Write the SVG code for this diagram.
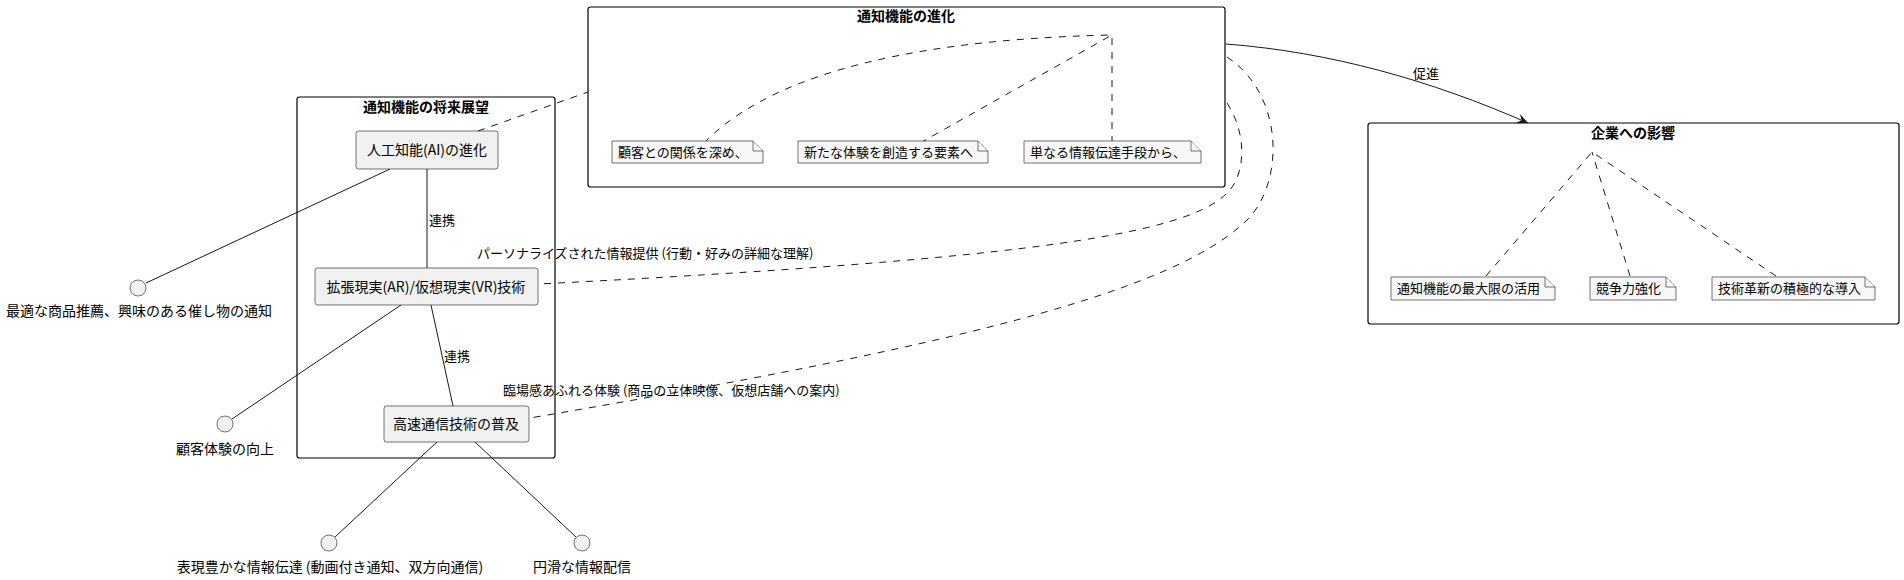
<svg xmlns="http://www.w3.org/2000/svg" width="1904" height="580" viewBox="0 0 1904 580">
<style>
text{font-family:"Noto Sans CJK JP","Noto Sans",sans-serif;fill:#000}
.pkg{fill:none;stroke:#000;stroke-width:1.2}
.ttl{font-size:14px;font-weight:bold;text-anchor:middle}
.node{fill:#f1f1f1;stroke:#181818;stroke-width:0.6}
.nt{font-size:14px;text-anchor:middle}
.note{fill:#f7f7f7;stroke:#181818;stroke-width:0.6}
.ntx{font-size:13px}
.lbl{font-size:13px}
.cl{font-size:14px;text-anchor:middle}
.sol{fill:none;stroke:#181818;stroke-width:1}
.dsh{fill:none;stroke:#181818;stroke-width:1;stroke-dasharray:7,7}
.cir{fill:#f1f1f1;stroke:#181818;stroke-width:0.6}
</style>
<defs>
<marker id="arr" viewBox="0 0 12 10" refX="11" refY="5" markerWidth="12" markerHeight="10" markerUnits="userSpaceOnUse" orient="auto">
<path d="M0,0 L11,5 L0,10 L4,5 Z" fill="#181818"/>
</marker>
</defs>

<g id="pkg-evolution">
<rect class="pkg" x="588" y="7" width="637" height="180" rx="2.5"/>
<text class="ttl" x="906" y="21">通知機能の進化</text>
</g>
<g id="pkg-future">
<rect class="pkg" x="297" y="97" width="258" height="361" rx="2.5"/>
<text class="ttl" x="426" y="112">通知機能の将来展望</text>
</g>
<g id="pkg-impact">
<rect class="pkg" x="1368" y="123" width="531" height="201" rx="2.5"/>
<text class="ttl" x="1633" y="138">企業への影響</text>
</g>

<g id="connectors">
<path class="dsh" d="M704,143 C760,85 880,40 1112,35"/>
<path class="dsh" d="M920,143 L1112,35"/>
<path class="dsh" d="M1112,143 L1112,35"/>
<path class="dsh" d="M1486,276 L1592,152"/>
<path class="dsh" d="M1630,276 L1592,152"/>
<path class="dsh" d="M1776,276 L1592,152"/>
<path class="sol" d="M1226,44 C1330,52 1430,80 1528,123" marker-end="url(#arr)"/>
<path class="dsh" d="M478,131 L588,92"/>
<path class="dsh" d="M1227,103 C1248,135 1245,175 1228,192 C1190,232 1050,258 539,284"/>
<path class="dsh" d="M1227,57 C1285,95 1285,185 1245,222 C1170,292 960,345 530,418"/>
<path class="sol" d="M427,169 L427,268"/>
<path class="sol" d="M431,305 L453,406"/>
<path class="sol" d="M390,169 L146,283"/>
<path class="sol" d="M401,305 L232,419"/>
<path class="sol" d="M437,442 L335,537"/>
<path class="sol" d="M475,442 L576,537"/>
</g>

<g id="labels">
<text class="lbl" x="1413" y="78">促進</text>
<text class="lbl" x="429" y="225">連携</text>
<text class="lbl" x="444" y="361">連携</text>
<text class="lbl" x="477" y="258">パーソナライズされた情報提供 (行動・好みの詳細な理解)</text>
<text class="lbl" x="503" y="395">臨場感あふれる体験 (商品の立体映像、仮想店舗への案内)</text>
</g>

<g id="note-evo1">
<path class="note" d="M612,141 L753,141 L763,151 L763,163 L612,163 Z"/>
<path class="note" d="M753,141 L753,151 L763,151"/>
<text class="ntx" x="618" y="157">顧客との関係を深め、</text>
</g>
<g id="note-evo2">
<path class="note" d="M798,141 L978,141 L988,151 L988,163 L798,163 Z"/>
<path class="note" d="M978,141 L978,151 L988,151"/>
<text class="ntx" x="804" y="157">新たな体験を創造する要素へ</text>
</g>
<g id="note-evo3">
<path class="note" d="M1024,141 L1191,141 L1201,151 L1201,163 L1024,163 Z"/>
<path class="note" d="M1191,141 L1191,151 L1201,151"/>
<text class="ntx" x="1030" y="157">単なる情報伝達手段から、</text>
</g>

<g id="note-imp1">
<path class="note" d="M1391,277 L1545,277 L1555,287 L1555,300 L1391,300 Z"/>
<path class="note" d="M1545,277 L1545,287 L1555,287"/>
<text class="ntx" x="1397" y="293">通知機能の最大限の活用</text>
</g>
<g id="note-imp2">
<path class="note" d="M1590,277 L1666,277 L1676,287 L1676,300 L1590,300 Z"/>
<path class="note" d="M1666,277 L1666,287 L1676,287"/>
<text class="ntx" x="1596" y="293">競争力強化</text>
</g>
<g id="note-imp3">
<path class="note" d="M1712,277 L1865,277 L1875,287 L1875,300 L1712,300 Z"/>
<path class="note" d="M1865,277 L1865,287 L1875,287"/>
<text class="ntx" x="1718" y="293">技術革新の積極的な導入</text>
</g>

<g id="node-ai">
<rect class="node" x="356" y="131" width="142" height="38" rx="2.5"/>
<text class="nt" x="427" y="155">人工知能(AI)の進化</text>
</g>
<g id="node-arvr">
<rect class="node" x="315" y="268" width="223" height="37" rx="2.5"/>
<text class="nt" x="426" y="292">拡張現実(AR)/仮想現実(VR)技術</text>
</g>
<g id="node-net">
<rect class="node" x="384" y="406" width="145" height="36" rx="2.5"/>
<text class="nt" x="456" y="429">高速通信技術の普及</text>
</g>

<g id="if-recommend">
<circle class="cir" cx="138" cy="288" r="8"/>
<text class="cl" x="139" y="316">最適な商品推薦、興味のある催し物の通知</text>
</g>
<g id="if-experience">
<circle class="cir" cx="225" cy="424" r="8"/>
<text class="cl" x="225" y="454">顧客体験の向上</text>
</g>
<g id="if-rich">
<circle class="cir" cx="329" cy="543" r="8"/>
<text class="cl" x="330" y="572">表現豊かな情報伝達 (動画付き通知、双方向通信)</text>
</g>
<g id="if-smooth">
<circle class="cir" cx="582" cy="543" r="8"/>
<text class="cl" x="582" y="572">円滑な情報配信</text>
</g>
</svg>
